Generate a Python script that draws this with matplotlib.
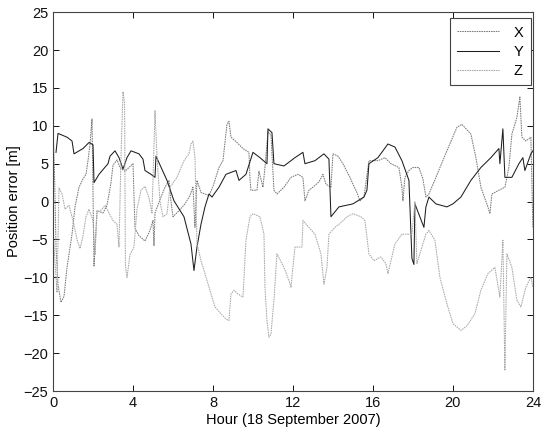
import numpy as np
import matplotlib.pyplot as plt

plt.rcParams['font.family'] = ['Liberation Sans', 'DejaVu Sans']

# (hour, position error [m])
x_pts = [(0.0, 10.0), (0.08, 3.0), (0.15, -6.0), (0.25, -11.0), (0.4, -13.3), (0.55, -12.5),
         (0.7, -8.7), (0.95, -4.3), (1.1, -0.7), (1.3, 1.9), (1.5, 3.0), (1.65, 3.6),
         (1.75, 5.4), (1.85, 7.6), (1.95, 10.9), (2.05, -8.5), (2.2, -1.2), (2.5, -1.5),
         (2.7, -0.5), (2.9, 2.5), (3.0, 4.8), (3.2, 5.5), (3.35, 4.5), (3.6, 4.0),
         (3.8, 4.5), (4.0, 5.0), (4.1, -3.5), (4.3, -4.5), (4.6, -5.2), (4.85, -3.8),
         (5.0, -2.5), (5.05, -5.8), (5.1, -1.5), (5.4, 0.6), (5.6, 1.9), (5.8, 2.8),
         (5.9, 0.0), (6.0, -2.0), (6.3, -1.2), (6.6, -0.3), (6.85, 0.8), (7.0, 1.9),
         (7.1, -3.4), (7.2, 2.8), (7.4, 1.2), (7.8, 0.8), (8.0, 2.0), (8.3, 4.5),
         (8.5, 5.4), (8.7, 10.2), (8.8, 10.6), (8.9, 8.5), (9.2, 7.8), (9.5, 7.0),
         (9.8, 6.5), (9.85, 3.0), (9.9, 1.5), (10.2, 1.5), (10.3, 4.0), (10.5, 1.9),
         (10.6, 4.5), (10.75, 9.2), (10.9, 8.8), (11.05, 1.5), (11.2, 1.0), (11.55, 1.9),
         (11.9, 3.2), (12.25, 3.6), (12.5, 3.2), (12.6, 0.1), (12.8, 1.5), (13.0, 1.9),
         (13.3, 2.6), (13.5, 3.6), (13.65, 2.3), (13.9, 1.9), (14.0, 6.3), (14.25, 6.0),
         (14.5, 5.0), (14.85, 3.2), (15.0, 2.3), (15.2, 1.2), (15.35, 0.1), (15.55, 0.6),
         (15.8, 5.4), (16.25, 5.4), (16.6, 5.8), (16.9, 5.0), (17.3, 4.5), (17.45, 1.9),
         (17.5, 0.1), (17.6, 3.2), (17.8, 4.1), (18.0, 4.5), (18.3, 4.5), (18.5, 3.0),
         (18.65, 0.6), (18.8, 1.0), (19.15, 3.2), (19.7, 6.7), (20.2, 9.8), (20.45, 10.2),
         (20.9, 8.9), (21.15, 5.8), (21.4, 1.9), (21.75, -0.7), (21.85, -1.6), (21.95, 1.0),
         (22.3, 1.5), (22.6, 1.9), (22.8, 4.5), (22.95, 8.9), (23.2, 11.1), (23.35, 13.8),
         (23.45, 8.5), (23.65, 8.0), (23.9, 8.5), (24.0, -3.4)]

y_pts = [(0.15, 6.5), (0.25, 9.0), (0.7, 8.5), (0.95, 8.0), (1.05, 6.3), (1.5, 7.0),
         (1.8, 7.8), (2.0, 7.5), (2.05, 2.5), (2.3, 3.6), (2.75, 5.0), (2.85, 6.0),
         (3.1, 6.7), (3.3, 5.8), (3.5, 4.3), (3.7, 5.8), (3.9, 6.7), (4.3, 6.3),
         (4.5, 5.6), (4.6, 4.1), (4.9, 3.6), (5.1, 3.2), (5.15, 6.0), (5.7, 2.8),
         (6.05, 0.1), (6.55, -2.0), (6.9, -5.6), (7.05, -9.1), (7.2, -6.0), (7.4, -3.0),
         (7.6, -0.7), (7.8, 1.0), (7.95, 0.6), (8.3, 1.9), (8.65, 3.6), (9.15, 4.1),
         (9.3, 2.8), (9.65, 3.6), (10.0, 6.5), (10.35, 5.8), (10.7, 5.0), (10.75, 9.6),
         (10.95, 9.1), (11.05, 5.0), (11.55, 4.7), (12.1, 5.8), (12.5, 6.5), (12.6, 5.0),
         (13.1, 5.4), (13.55, 6.3), (13.8, 5.6), (13.9, -2.0), (14.3, -0.7), (15.0, -0.3),
         (15.55, 0.6), (15.7, 1.5), (15.8, 5.0), (16.25, 5.8), (16.75, 7.6), (17.1, 7.2),
         (17.45, 5.4), (17.8, 2.8), (17.95, -7.5), (18.05, -8.3), (18.1, -0.3),
         (18.55, -3.4), (18.65, -0.7), (18.8, 0.6), (19.15, -0.3), (19.7, -0.7),
         (20.0, -0.3), (20.4, 0.6), (20.9, 2.8), (21.4, 4.5), (21.9, 5.8), (22.3, 7.0),
         (22.35, 5.0), (22.5, 9.6), (22.6, 3.2), (22.95, 3.2), (23.3, 5.0), (23.5, 5.8),
         (23.6, 4.1), (23.9, 6.3), (24.0, 6.7)]

z_pts = [(0.0, -3.5), (0.1, -8.0), (0.2, -12.0), (0.3, 1.8), (0.45, 1.0), (0.6, -1.0),
         (0.8, -0.5), (1.0, -2.5), (1.2, -5.0), (1.35, -6.2), (1.5, -4.5), (1.65, -2.0),
         (1.8, -1.0), (2.0, -2.5), (2.1, -7.0), (2.2, -1.5), (2.45, -1.0), (2.6, -0.5),
         (2.8, -1.5), (3.0, -2.5), (3.2, -3.0), (3.3, -6.0), (3.4, 6.0), (3.5, 14.5),
         (3.58, 13.0), (3.62, -8.5), (3.7, -10.0), (3.85, -7.0), (4.05, -6.0), (4.2, -1.0),
         (4.4, 1.5), (4.6, 2.0), (4.8, 0.5), (4.95, -1.5), (5.1, 12.0), (5.2, 6.0),
         (5.35, 0.0), (5.5, -2.0), (5.7, -1.6), (5.85, 1.9), (6.2, 3.2), (6.55, 5.4),
         (6.8, 6.3), (6.9, 7.6), (7.0, 8.0), (7.1, 5.8), (7.2, -5.5), (7.4, -7.8),
         (7.6, -9.5), (7.85, -11.7), (8.1, -13.9), (8.4, -14.8), (8.65, -15.5), (8.8, -15.7),
         (8.9, -12.2), (9.05, -11.7), (9.25, -12.2), (9.5, -12.6), (9.65, -5.1), (9.85, -2.0),
         (10.0, -1.6), (10.35, -2.0), (10.55, -4.3), (10.6, -11.3), (10.7, -15.7),
         (10.8, -17.9), (10.9, -17.5), (11.05, -13.0), (11.2, -6.9), (11.55, -8.7),
         (11.8, -10.4), (11.9, -11.3), (12.1, -6.0), (12.45, -6.0), (12.5, -2.5),
         (12.8, -3.4), (13.1, -4.3), (13.4, -6.9), (13.55, -10.9), (13.7, -8.7),
         (13.8, -4.3), (14.1, -3.4), (14.35, -2.9), (14.7, -2.0), (15.0, -1.6),
         (15.4, -2.0), (15.6, -2.5), (15.8, -6.9), (16.05, -7.8), (16.4, -7.3),
         (16.65, -8.2), (16.75, -9.5), (17.1, -5.6), (17.45, -4.3), (17.95, -4.3),
         (18.1, 0.0), (18.2, -8.2), (18.5, -5.6), (18.65, -4.3), (18.8, -3.8),
         (19.1, -5.1), (19.35, -10.0), (19.7, -13.5), (20.0, -16.1), (20.4, -17.0),
         (20.7, -16.4), (21.1, -14.8), (21.4, -11.7), (21.75, -9.5), (22.1, -8.7),
         (22.35, -12.6), (22.5, -5.1), (22.6, -22.3), (22.7, -6.9), (22.95, -8.7),
         (23.2, -13.0), (23.4, -13.9), (23.65, -11.3), (23.9, -10.0), (24.0, -11.3)]

x_ticks = [0, 4, 8, 12, 16, 20, 24]
y_ticks = [-25, -20, -15, -10, -5, 0, 5, 10, 15, 20, 25]

fig = plt.figure(figsize=(5.41, 4.34), dpi=100)
ax = fig.add_axes([0.098, 0.099, 0.887, 0.873])

series = [("X", x_pts, "#7a7a7a", (0, (1.5, 0.8))),
          ("Y", y_pts, "#1e1e1e", "-"),
          ("Z", z_pts, "#a8a8a8", (0, (1.5, 0.8)))]
for name, pts, col, ls in series:
    arr = np.array(pts)
    ax.plot(arr[:, 0], arr[:, 1], color=col, lw=0.75, ls=ls, label=name)

ax.set_xlim(0, 24)
ax.set_ylim(-25, 25)
ax.set_xticks(x_ticks)
ax.set_yticks(y_ticks)
ax.tick_params(direction="in", length=4, width=0.7, top=True, right=True,
               labelsize=10.5, colors="#111111")
for sp in ax.spines.values():
    sp.set_linewidth(0.8)
    sp.set_color("#444444")

ax.set_xlabel("Hour (18 September 2007)", fontsize=10.5, labelpad=2)
ax.set_ylabel("Position error [m]", fontsize=10.5, labelpad=2)

leg = ax.legend(loc="upper right", bbox_to_anchor=(0.996, 0.984), fontsize=10.5,
                handlelength=2.9, handletextpad=1.0, labelspacing=0.35,
                borderpad=0.5, fancybox=False, framealpha=1, borderaxespad=0)
leg.get_frame().set_edgecolor("#444444")
leg.get_frame().set_linewidth(0.8)

fig.savefig("out.png", dpi=100)
